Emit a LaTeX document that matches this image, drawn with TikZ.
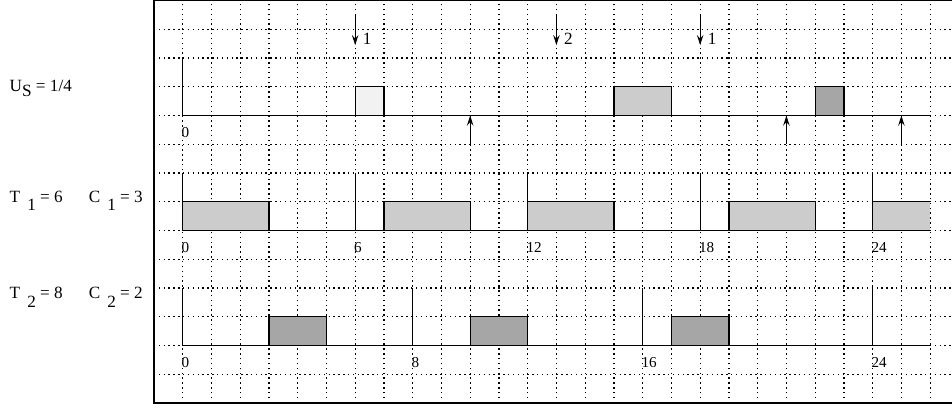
\documentclass[tikz,border=0pt]{standalone}
\usepackage{fontspec}
\setmainfont{Liberation Serif}
\usetikzlibrary{arrows.meta}
\definecolor{lightjob}{gray}{0.95}
\definecolor{midjob}{gray}{0.8}
\definecolor{darkjob}{gray}{0.65}
\newcommand{\lowsub}[2][2.6pt]{\raisebox{-#1}{#2}}
\begin{document}
\begin{tikzpicture}[
    x=0.5cm, y=0.5cm,
    every node/.style={inner sep=0pt, font=\fontsize{8.5}{10}\selectfont},
    tick/.style={anchor=west, font=\fontsize{7.5}{8}\selectfont},
    dots/.style={line width=0.6pt, dash pattern=on 0.7pt off 1.7pt},
    axis/.style={line width=0.6pt},
    job/.style={axis, fill=#1},
    >={Stealth[length=5pt,width=3.2pt,inset=1.8pt]}
  ]
  \useasboundingbox (-6.355,-0.16) rectangle (26.76,14.02);
  \foreach \y in {1,...,13}
    \draw[dots] (-1,\y) -- (26.76,\y);
  \foreach \x in {0,...,26}
    \draw[dots] (\x,0) -- (\x,14);
  \draw[axis] (26.76,14) -- (-1,14) -- (-1,0) -- (26.76,0);
  \node[anchor=base west] (US) at (-6.03,10.85) {U\lowsub{S} = 1/4};
  \node[anchor=base west] (T1) at (-6.03,6.98) {T\hspace{3.5pt}\lowsub[4pt]{1} = 6};
  \node[anchor=base west] (C1) at (-3.28,6.98) {C\hspace{3.5pt}\lowsub[4pt]{1} = 3};
  \node[anchor=base west] (T2) at (-6.03,3.62) {T\hspace{3.5pt}\lowsub[4pt]{2} = 8};
  \node[anchor=base west] (C2) at (-3.28,3.62) {C\hspace{3.5pt}\lowsub[4pt]{2} = 2};
  \draw[job=lightjob] (6,10) rectangle (7,11);
  \draw[job=midjob] (15,10) rectangle (17,11);
  \draw[job=darkjob] (22,10) rectangle (23,11);
  \draw[axis] (0,12) -- (0,10) -- (26,10);
  \node[tick] (s0) at (-0.05,9.4) {0};
  \foreach \t/\k in {6/1,13/2,18/1} {
    \coordinate (rel\t) at (\t,13.51);
    \coordinate (arr\t) at (\t,12.45);
    \draw[->, axis] (rel\t) -- (arr\t);
    \node[anchor=base west] (n\t) at (\t+0.25,12.47) {\k};
  }
  \foreach \t in {10,21,25} {
    \coordinate (dl\t) at (\t,9);
    \coordinate (dh\t) at (\t,10);
    \draw[->, axis] (dl\t) -- (dh\t);
  }
  \foreach \a/\b in {0/3,7/10,12/15,19/22}
    \draw[job=midjob] (\a,6) rectangle (\b,7);
  \fill[midjob] (24,6) rectangle (26,7);
  \draw[axis] (24,6) |- (26,7);
  \draw[axis] (0,6) -- (26,6);
  \foreach \t in {0,6,...,24} {
    \draw[axis] (\t,6) -- (\t,8);
    \node[tick] (a\t) at (\t-0.05,5.4) {\t};
  }
  \foreach \a/\b in {3/5,10/12,17/19}
    \draw[job=darkjob] (\a,2) rectangle (\b,3);
  \draw[axis] (0,2) -- (26,2);
  \foreach \t in {0,8,...,24} {
    \draw[axis] (\t,2) -- (\t,4);
    \node[tick] (b\t) at (\t-0.05,1.4) {\t};
  }
\end{tikzpicture}
\end{document}
